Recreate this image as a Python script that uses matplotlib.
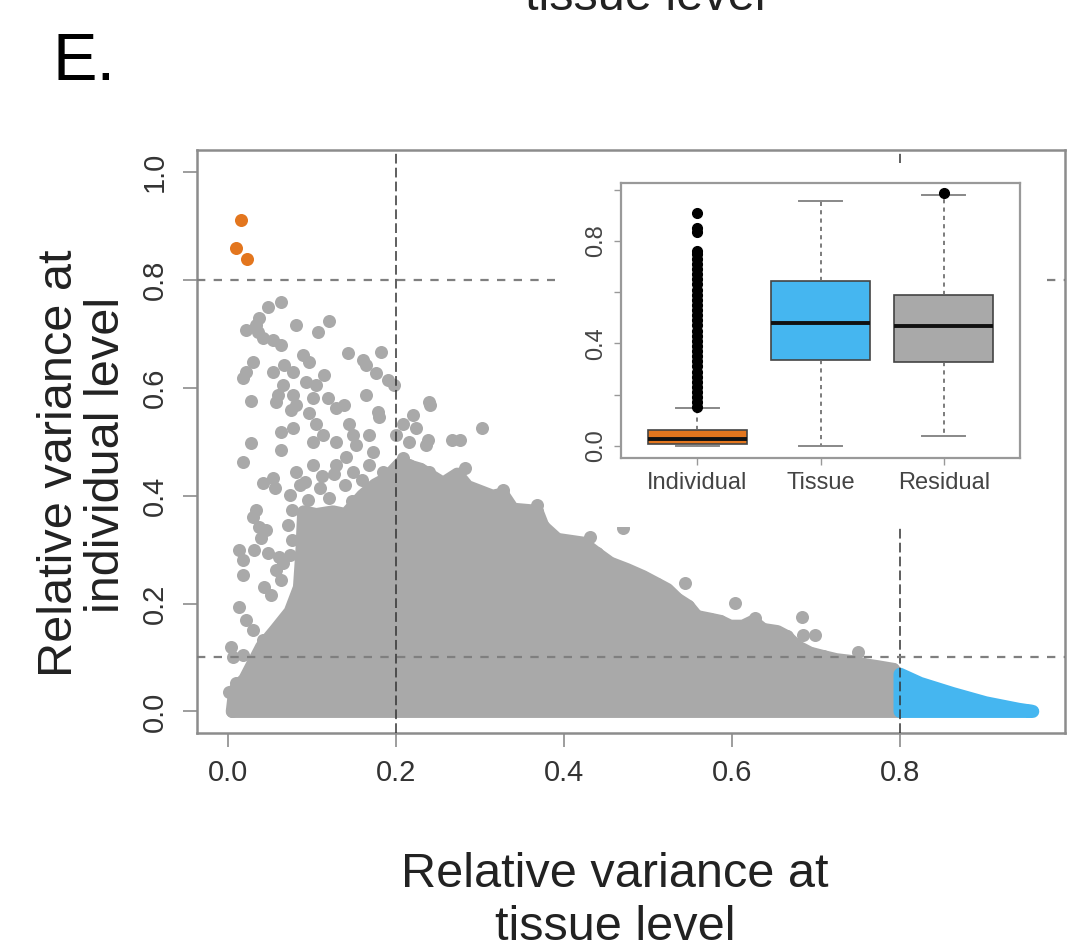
import numpy as np
import matplotlib.pyplot as plt
from matplotlib.patches import Rectangle

plt.rcParams["font.family"] = ["Liberation Sans", "DejaVu Sans"]
plt.rcParams["lines.scale_dashes"] = False

GRAY = "#a9a9a9"
BLUE = "#45b6f0"
ORANGE = "#e3761e"

# Dense part of the cloud (outline of dot centres)
dense_x = [0.005, 0.008, 0.020, 0.040, 0.056, 0.074, 0.085, 0.088, 0.090, 0.105,
           0.125, 0.140, 0.160, 0.175, 0.187, 0.205, 0.229, 0.256, 0.273, 0.285,
           0.315, 0.327, 0.339, 0.368, 0.375, 0.392, 0.423, 0.439, 0.455, 0.475,
           0.494, 0.511, 0.523, 0.535, 0.548, 0.558, 0.574, 0.586, 0.598, 0.613,
           0.625, 0.637, 0.654, 0.665, 0.677, 0.693, 0.708, 0.724, 0.740, 0.756,
           0.773, 0.792, 0.800, 0.800]
dense_y = [0.000, 0.040, 0.060, 0.120, 0.150, 0.185, 0.230, 0.300, 0.370, 0.365,
           0.370, 0.365, 0.400, 0.420, 0.430, 0.460, 0.449, 0.423, 0.440, 0.417,
           0.399, 0.403, 0.375, 0.371, 0.343, 0.319, 0.312, 0.293, 0.275, 0.263,
           0.250, 0.236, 0.226, 0.208, 0.195, 0.176, 0.171, 0.167, 0.158, 0.158,
           0.167, 0.152, 0.148, 0.139, 0.121, 0.108, 0.102, 0.096, 0.093, 0.087,
           0.083, 0.078, 0.060, 0.000]

# Sparse grey points
sparse_pts = [
    (0.063, 0.760), (0.048, 0.749), (0.037, 0.730), (0.033, 0.717), (0.021, 0.708),
    (0.036, 0.704), (0.042, 0.693), (0.054, 0.689), (0.063, 0.680), (0.081, 0.717),
    (0.107, 0.704), (0.120, 0.723), (0.089, 0.661), (0.096, 0.647), (0.143, 0.665),
    (0.161, 0.652), (0.182, 0.667), (0.164, 0.643), (0.176, 0.628), (0.190, 0.615),
    (0.198, 0.606), (0.030, 0.647), (0.021, 0.630), (0.018, 0.619), (0.054, 0.630),
    (0.067, 0.643), (0.077, 0.630), (0.065, 0.606), (0.060, 0.587), (0.057, 0.574),
    (0.077, 0.587), (0.093, 0.611), (0.105, 0.606), (0.114, 0.624), (0.101, 0.582),
    (0.119, 0.582), (0.129, 0.563), (0.138, 0.569), (0.027, 0.576), (0.164, 0.587),
    (0.179, 0.556), (0.081, 0.569), (0.075, 0.559), (0.180, 0.545), (0.063, 0.519),
    (0.077, 0.526), (0.096, 0.554), (0.105, 0.532), (0.113, 0.513), (0.144, 0.532),
    (0.149, 0.513), (0.152, 0.494), (0.129, 0.500), (0.027, 0.498), (0.063, 0.485),
    (0.018, 0.463), (0.101, 0.500), (0.168, 0.513), (0.173, 0.481), (0.200, 0.513),
    (0.220, 0.550), (0.239, 0.574), (0.208, 0.532), (0.224, 0.526), (0.215, 0.500),
    (0.208, 0.470), (0.236, 0.494), (0.054, 0.433), (0.081, 0.444), (0.101, 0.457),
    (0.129, 0.457), (0.149, 0.444), (0.168, 0.457), (0.185, 0.444), (0.215, 0.457),
    (0.239, 0.444), (0.302, 0.526), (0.240, 0.569), (0.267, 0.504), (0.276, 0.504),
    (0.238, 0.504), (0.282, 0.452), (0.327, 0.411), (0.368, 0.383), (0.431, 0.324),
    (0.470, 0.340), (0.042, 0.424), (0.033, 0.374), (0.030, 0.361), (0.037, 0.342),
    (0.045, 0.337), (0.039, 0.322), (0.013, 0.300), (0.018, 0.281), (0.018, 0.253),
    (0.031, 0.300), (0.048, 0.294), (0.061, 0.287), (0.065, 0.276), (0.057, 0.263),
    (0.063, 0.244), (0.043, 0.231), (0.051, 0.216), (0.013, 0.194), (0.021, 0.170),
    (0.030, 0.151), (0.042, 0.133), (0.004, 0.120), (0.006, 0.101), (0.018, 0.105),
    (0.001, 0.036), (0.010, 0.053), (0.074, 0.402), (0.076, 0.374), (0.071, 0.346),
    (0.076, 0.318), (0.074, 0.290), (0.056, 0.415), (0.086, 0.420), (0.110, 0.415),
    (0.139, 0.420), (0.169, 0.411), (0.193, 0.420), (0.544, 0.238), (0.604, 0.201),
    (0.627, 0.173), (0.683, 0.175), (0.685, 0.142), (0.699, 0.142), (0.750, 0.110),
    (0.095, 0.392), (0.120, 0.395), (0.147, 0.390), (0.180, 0.398), (0.112, 0.437),
    (0.160, 0.430), (0.198, 0.432), (0.126, 0.440), (0.092, 0.425), (0.140, 0.472),
]

# Tissue-dominated genes (blue tail) and individual-dominated genes (orange)
blue_x = [0.800, 0.800, 0.824, 0.863, 0.902, 0.941, 0.958]
blue_y = [0.000, 0.069, 0.052, 0.033, 0.016, 0.004, 0.000]
orange_x = [0.015, 0.009, 0.023]
orange_y = [0.912, 0.860, 0.839]

# Inset boxplot summary
box_labels = ["Individual", "Tissue", "Residual"]
box_colors = [ORANGE, BLUE, GRAY]
box_lo = [0.0, 0.0, 0.039]
box_q1 = [0.008, 0.336, 0.329]
box_med = [0.025, 0.479, 0.466]
box_q3 = [0.062, 0.645, 0.589]
box_hi = [0.147, 0.957, 0.980]
fliers_ind = [0.15, 0.17, 0.19, 0.21, 0.23, 0.25, 0.27, 0.29, 0.31, 0.33, 0.35,
              0.37, 0.39, 0.41, 0.43, 0.45, 0.47, 0.49, 0.51, 0.53, 0.55, 0.57,
              0.59, 0.61, 0.63, 0.65, 0.67, 0.69, 0.71, 0.73, 0.75, 0.76,
              0.836, 0.85, 0.91]
fliers_res = [0.986]

fig = plt.figure(figsize=(10.68, 9.48), dpi=100)
ax = fig.add_axes([0.1842, 0.2268, 0.8130, 0.6150])

ax.fill(dense_x, dense_y, facecolor=GRAY, edgecolor=GRAY, lw=9.4,
        joinstyle="round", zorder=1)
sx, sy = zip(*sparse_pts)
ax.scatter(sx, sy, s=88, c=GRAY, lw=0, zorder=2)
ax.scatter(dense_x, dense_y, s=88, c=GRAY, lw=0, zorder=2)
ax.fill(blue_x, blue_y, facecolor=BLUE, edgecolor=BLUE, lw=9.4,
        joinstyle="round", zorder=3)
ax.scatter(orange_x, orange_y, s=88, c=ORANGE, lw=0, zorder=3)

ax.axvline(0.2, color="#333333", lw=1.1, ls=(0, (7, 3)), zorder=4)
ax.axvline(0.8, color="#333333", lw=1.1, ls=(0, (7, 3)), zorder=4)
ax.axhline(0.8, color="#7f7f7f", lw=1.6, ls=(0, (6, 6)), zorder=4)
ax.axhline(0.1, color="#7f7f7f", lw=1.6, ls=(0, (6, 6)), zorder=4)

ax.set_xlim(-0.0373, 0.9964)
ax.set_ylim(-0.04, 1.041)
ax.set_xticks([0.0, 0.2, 0.4, 0.6, 0.8])
ax.set_xticklabels(["0.0", "0.2", "0.4", "0.6", "0.8"])
ax.set_yticks([0.0, 0.2, 0.4, 0.6, 0.8, 1.0])
ax.set_yticklabels(["0.0", "0.2", "0.4", "0.6", "0.8", "1.0"],
                   rotation=90, va="center")
for s in ax.spines.values():
    s.set_color("#8c8c8c")
    s.set_linewidth(1.8)
ax.tick_params(length=10, width=1.2, color="#8c8c8c", labelsize=21,
               labelcolor="#333333")
ax.tick_params(axis="x", pad=9)
ax.tick_params(axis="y", pad=10)

# white area behind the inset
fig.add_artist(Rectangle((0.520, 0.444), 0.454, 0.384, transform=fig.transFigure,
                         facecolor="white", edgecolor="none", zorder=1))

axin = fig.add_axes([0.5815, 0.5172, 0.3736, 0.2901])
axin.set_zorder(2)
stats = []
for i in range(3):
    stats.append({"whislo": box_lo[i], "q1": box_q1[i], "med": box_med[i],
                  "q3": box_q3[i], "whishi": box_hi[i],
                  "fliers": [fliers_ind, [], fliers_res][i]})
bp = axin.bxp(stats, positions=[1, 2, 3], widths=0.8, capwidths=0.35,
              patch_artist=True,
              boxprops=dict(edgecolor="#444444", lw=1.2),
              medianprops=dict(color="#111111", lw=2.8),
              whiskerprops=dict(color="#666666", lw=1.2, ls=(0, (3, 3))),
              capprops=dict(color="#888888", lw=1.4),
              flierprops=dict(marker="o", markerfacecolor="black",
                              markeredgecolor="black", markersize=7))
for patch, c in zip(bp["boxes"], box_colors):
    patch.set_facecolor(c)
axin.set_xlim(0.38, 3.62)
axin.set_ylim(-0.046, 1.027)
axin.set_xticks([1, 2, 3])
axin.set_xticklabels(box_labels)
axin.set_yticks([0.0, 0.2, 0.4, 0.6, 0.8, 1.0])
axin.set_yticklabels(["0.0", "", "0.4", "", "0.8", ""], rotation=90, va="center")
for s in axin.spines.values():
    s.set_color("#999999")
    s.set_linewidth(1.6)
axin.tick_params(length=5, width=1, color="#999999", labelsize=17,
                 labelcolor="#444444", pad=5)

fig.text(52 / 1068, 1 - 80 / 948, "E.", fontsize=48, va="baseline")
fig.text(645 / 1068, 1 - 10 / 948, "tissue level", fontsize=35,
         ha="center", va="baseline", color="#222222")
fig.text(615 / 1068, 1 - 887 / 948, "Relative variance at", fontsize=35,
         ha="center", va="baseline", color="#222222")
fig.text(615 / 1068, 1 - 940 / 948, "tissue level", fontsize=35,
         ha="center", va="baseline", color="#222222")
fig.text(60 / 1068, 1 - 463 / 948, "Relative variance at", fontsize=35,
         rotation=90, ha="center", va="center", color="#222222")
fig.text(107 / 1068, 1 - 455 / 948, "individual level", fontsize=35,
         rotation=90, ha="center", va="center", color="#222222")

fig.savefig("out.png", dpi=100)
